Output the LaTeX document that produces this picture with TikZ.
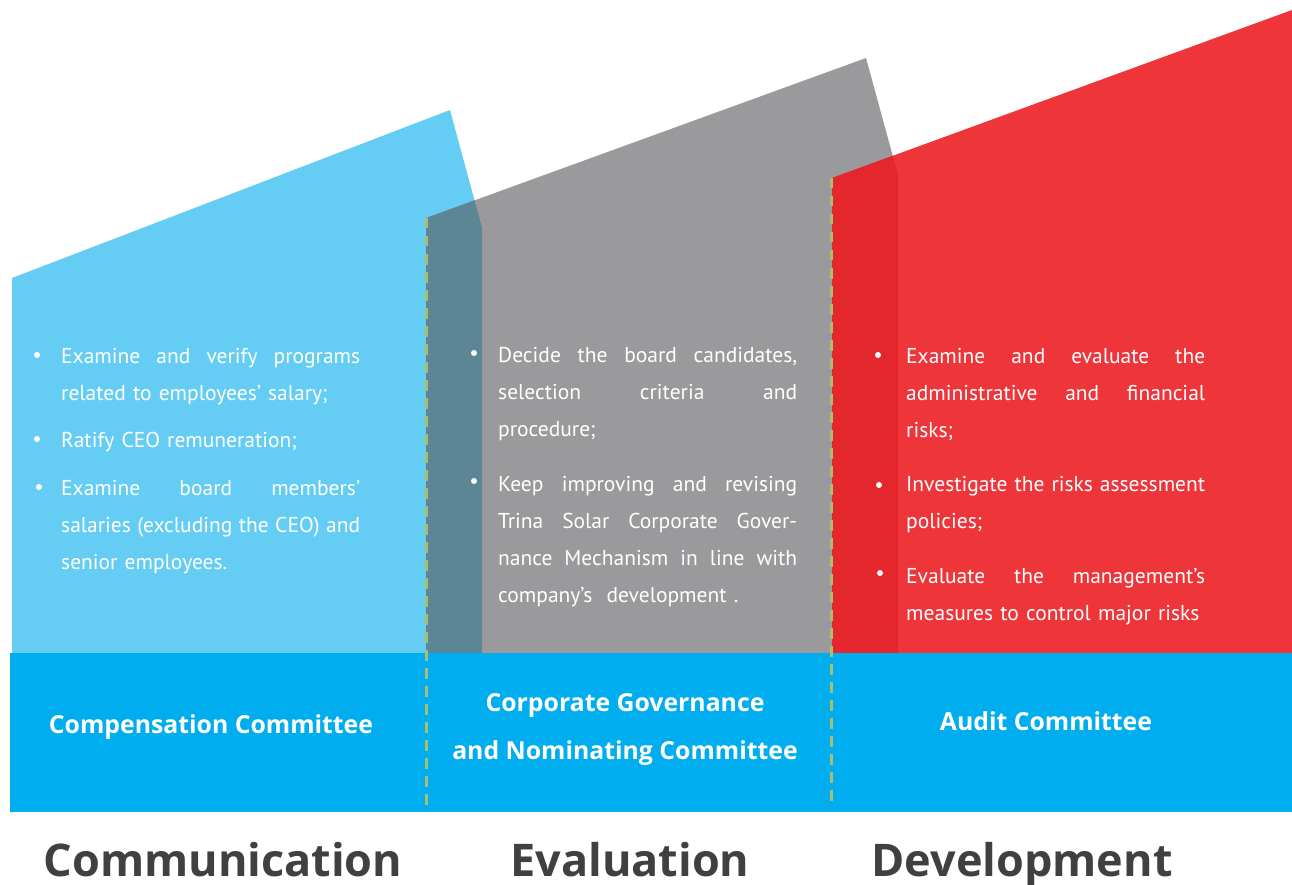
\documentclass[tikz,border=0pt]{standalone}
\usepackage{fontspec}
\setmainfont{PT Sans}
\newfontfamily\headfont{Open Sans}
\usetikzlibrary{positioning}

\definecolor{skyblue}{HTML}{65CDF4}
\definecolor{midgray}{HTML}{9A9A9C}
\definecolor{brightred}{HTML}{EE353A}
\definecolor{bandblue}{HTML}{00ADEE}
\definecolor{tealshade}{HTML}{5C8596}
\definecolor{redshade}{HTML}{E4262D}
\definecolor{dashgreen}{HTML}{A9BF6F}
\definecolor{titlegray}{HTML}{404040}

% outlines of the three panels
\newcommand{\bluepanel}{(12,278) -- (450,110) -- (482,228) -- (482,653) -- (12,653) -- cycle}
\newcommand{\graypanel}{(426,218) -- (866,58) -- (898,175) -- (898,653) -- (426,653) -- cycle}
\newcommand{\redpanel}{(832,178) -- (1292,10) -- (1292,653) -- (832,653) -- cycle}
% a line spread over the full column width (words split by \hfill)
\newcommand{\fullline}[1]{\leavevmode\hbox to 299pt{#1}}

\tikzset{
itemtext/.style={
  draw=none,
  text=white,
  anchor=base west,
  text width=299pt,
  inner sep=0pt,
  font=\fontsize{21.5}{37}\selectfont,
},
dot/.style={
  circle,
  fill=white,
  minimum size=6pt,
  inner sep=0pt,
},
heading/.style={
  text=white,
  align=center,
  font=\headfont\bfseries\fontsize{24.8}{48}\selectfont,
},
caption/.style={
  text=titlegray,
  anchor=base,
  inner sep=0pt,
  font=\headfont\bfseries\fontsize{45}{50}\selectfont,
},
divider/.style={
  dashgreen,
  line width=3pt,
  dash pattern=on 10.5pt off 7.5pt,
},
}

\begin{document}
\begin{tikzpicture}[x=1pt, y=-1pt]
\useasboundingbox (0,0) rectangle (1292,885);

%panels
\fill[skyblue] \bluepanel;
\fill[midgray] \graypanel;
\fill[brightred] \redpanel;
%overlaps
\begin{scope}
\clip \graypanel;
\fill[tealshade] \bluepanel;
\end{scope}
\begin{scope}
\clip \redpanel;
\fill[redshade] \graypanel;
\end{scope}

%committee band
\fill[bandblue] (10,653) rectangle (1292,812);
\draw[divider] (426,218) -- (426,812);
\draw[divider] (831,178) -- (831,808);

%left column
\node[dot](dotA1) at (37,355) {};
\node[itemtext](itemA1) at (61,363) {\fullline{Examine\hfill and\hfill verify\hfill programs}\\related to employees’ salary;};
\node[dot](dotA2) at (37,439) {};
\node[itemtext](itemA2) at (61,447) {Ratify CEO remuneration;};
\node[dot](dotA3) at (39,487) {};
\node[itemtext](itemA3) at (61,495) {\fullline{Examine\hfill board\hfill members’}\\\fullline{salaries\hfill (excluding\hfill the\hfill CEO)\hfill and}\\senior employees.};

%middle column
\node[dot](dotB1) at (474,353) {};
\node[itemtext](itemB1) at (498,362) {\fullline{Decide\hfill the\hfill board\hfill candidates,}\\\fullline{selection\hfill criteria\hfill and}\\procedure;};
\node[dot](dotB2) at (474,481) {};
\node[itemtext](itemB2) at (498,491) {\fullline{Keep\hfill improving\hfill and\hfill revising}\\\fullline{Trina\hfill Solar\hfill Corporate\hfill Gover-}\\\fullline{nance\hfill Mechanism\hfill in\hfill line\hfill with}\\company’s\ \ development\ .};

%right column
\node[dot](dotC1) at (878,355) {};
\node[itemtext](itemC1) at (906,363) {\fullline{Examine\hfill and\hfill evaluate\hfill the}\\\fullline{administrative\hfill and\hfill financial}\\risks;};
\node[dot](dotC2) at (879,485) {};
\node[itemtext](itemC2) at (906,491) {\fullline{Investigate\hfill the\hfill risks\hfill assessment}\\policies;};
\node[dot](dotC3) at (880,573) {};
\node[itemtext](itemC3) at (906,583) {\fullline{Evaluate\hfill the\hfill management’s}\\measures to control major risks};

%committee names
\node[heading](comp) at (211,727) {Compensation Committee};
\node[heading](gov) at (625,729) {Corporate Governance\\and Nominating Committee};
\node[heading](audit) at (1046,721) {Audit Committee};

%bottom captions
\node[caption](comm) at (223,876) {Communication};
\node[caption](eval) at (630,876) {Evaluation};
\node[caption](dev) at (1022,876) {Development};

\end{tikzpicture}
\end{document}
